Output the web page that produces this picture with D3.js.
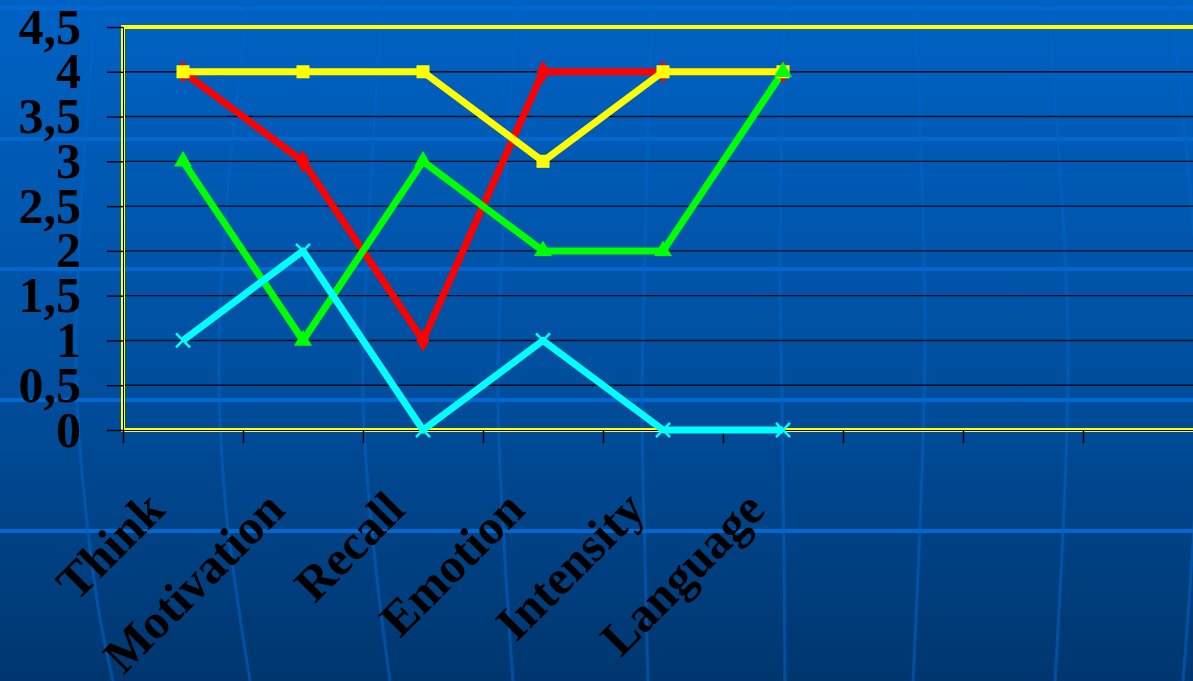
<!DOCTYPE html>
<html lang="en">
<head>
  <meta charset="UTF-8">
  <title>Line chart</title>
  <script src="https://cdnjs.cloudflare.com/ajax/libs/d3/7.8.5/d3.min.js"></script>
  <style>
    html, body { margin: 0; padding: 0; overflow: hidden; }
  </style>
</head>
<body>
  <script>
    // data
    const categories = ["Think", "Motivation", "Recall", "Emotion", "Intensity", "Language", "", "", ""];
    const redValues = [4, 3, 1, 4, 4, 4];
    const yellowValues = [4, 4, 4, 3, 4, 4];
    const greenValues = [3, 1, 3, 2, 2, 4];
    const cyanValues = [1, 2, 0, 1, 0, 0];
    const yTicks = [0, 0.5, 1, 1.5, 2, 2.5, 3, 3.5, 4, 4.5];

    const width = 1193, height = 681;
    const plot = { left: 123, top: 27, right: 1203, bottom: 430 };
    const font = "'Liberation Serif', 'Times New Roman', serif";

    const svg = d3.select("body")
      .append("svg")
      .attr("width", width)
      .attr("height", height);

    // background (slide template)
    const defs = svg.append("defs");
    const grad = defs.append("linearGradient")
      .attr("id", "bg").attr("x1", 0).attr("y1", 0).attr("x2", 0).attr("y2", 1);
    grad.append("stop").attr("offset", "0%").attr("stop-color", "#0062C4");
    grad.append("stop").attr("offset", "55%").attr("stop-color", "#004F9F");
    grad.append("stop").attr("offset", "100%").attr("stop-color", "#00366E");
    svg.append("rect").attr("width", width).attr("height", height).attr("fill", "url(#bg)");

    const deco = svg.append("g").attr("class", "deco");
    const bands = [8, 139, 269, 400, 531];
    deco.selectAll("line")
      .data(bands)
      .enter()
      .append("line")
      .attr("x1", 0).attr("x2", width)
      .attr("y1", d => d).attr("y2", d => d)
      .attr("stroke", "#0068D0")
      .attr("stroke-width", 4);

    const curves = [
      [[97, 0], [80, 220], [77, 400], [97, 600], [113, 681]],
      [[248, 0], [227, 200], [219, 350], [225, 500], [250, 681]],
      [[382, 0], [370, 200], [363, 400], [375, 560], [390, 681]],
      [[517, 0], [502, 250], [498, 400], [505, 560], [513, 681]],
      [[652, 0], [645, 250], [642, 400], [645, 560], [648, 681]],
      [[785, 0], [780, 250], [782, 400], [784, 560], [785, 681]],
      [[915, 0], [925, 340], [913, 681]],
      [[1047, 0], [1068, 340], [1055, 681]],
      [[1170, 0], [1200, 340], [1183, 681]]
    ];
    const curveLine = d3.line().curve(d3.curveCatmullRom);
    deco.selectAll("path")
      .data(curves)
      .enter()
      .append("path")
      .attr("d", d => curveLine(d))
      .attr("fill", "none")
      .attr("stroke", "#0064C8")
      .attr("stroke-opacity", 0.55)
      .attr("stroke-width", 3);

    // scales
    const x = d3.scaleBand()
      .domain(d3.range(categories.length))
      .range([plot.left, plot.right]);
    const y = d3.scaleLinear()
      .domain([0, 4.5])
      .range([plot.bottom, plot.top]);

    const locale = d3.formatLocale({ decimal: ",", thousands: ".", grouping: [3], currency: ["", ""] });
    const fmt = locale.format("~g");

    // gridlines
    svg.append("g")
      .selectAll("line")
      .data(yTicks.filter(d => d > 0 && d < 4.5))
      .enter()
      .append("line")
      .attr("x1", plot.left).attr("x2", plot.right)
      .attr("y1", d => y(d)).attr("y2", d => y(d))
      .attr("stroke", "#000")
      .attr("stroke-opacity", 0.85)
      .attr("stroke-width", 1.4);

    // plot border
    svg.append("rect")
      .attr("x", plot.left).attr("y", plot.top)
      .attr("width", plot.right - plot.left)
      .attr("height", plot.bottom - plot.top)
      .attr("fill", "none")
      .attr("stroke", "#FFFF00")
      .attr("stroke-width", 4);

    // y axis
    const yAxis = d3.axisLeft(y)
      .tickValues(yTicks)
      .tickSize(16)
      .tickPadding(26)
      .tickFormat(fmt);
    const gy = svg.append("g")
      .attr("transform", `translate(${plot.left}, 0)`)
      .call(yAxis);
    gy.select(".domain").attr("stroke", "#000").attr("stroke-width", 1);
    gy.selectAll(".tick line").attr("stroke", "#000").attr("stroke-width", 1.4);
    gy.selectAll(".tick text")
      .attr("fill", "#000")
      .attr("font-family", font)
      .attr("font-weight", "bold")
      .attr("font-size", "50px");

    // x axis (ticks on band edges)
    const edges = d3.range(categories.length + 1).map(i => plot.left + i * x.step());
    const xEdge = d3.scaleLinear().domain([plot.left, plot.right]).range([plot.left, plot.right]);
    const gx = svg.append("g")
      .attr("transform", `translate(0, ${plot.bottom})`)
      .call(d3.axisBottom(xEdge).tickValues(edges).tickSize(13).tickFormat(""));
    gx.select(".domain").attr("stroke", "#000").attr("stroke-width", 1);
    gx.selectAll(".tick line").attr("stroke", "#000").attr("stroke-width", 1.4);

    // category labels
    svg.append("g")
      .selectAll("text")
      .data(categories)
      .enter()
      .append("text")
      .attr("transform", (d, i) => `translate(${x(i) + x.bandwidth() / 2 - 16}, 512) rotate(-45)`)
      .attr("text-anchor", "end")
      .attr("font-family", font)
      .attr("font-weight", "bold")
      .attr("font-size", "49px")
      .attr("fill", "#000")
      .text(d => d);

    // series
    const series = [
      { name: "red", values: redValues, color: "#FF0000", symbol: d3.symbolDiamond, size: 150 },
      { name: "yellow", values: yellowValues, color: "#FFFF00", symbol: d3.symbolSquare, size: 170 },
      { name: "green", values: greenValues, color: "#00FF00", symbol: d3.symbolTriangle, size: 140 },
      { name: "cyan", values: cyanValues, color: "#00FFFF", symbol: d3.symbolTimes, size: 130 }
    ];

    const cx = i => x(i) + x.bandwidth() / 2;
    const line = d3.line()
      .x((d, i) => cx(i))
      .y(d => y(d));

    svg.append("g")
      .selectAll("path")
      .data(series)
      .enter()
      .append("path")
      .attr("d", s => line(s.values))
      .attr("fill", "none")
      .attr("stroke", s => s.color)
      .attr("stroke-width", 7)
      .attr("stroke-linejoin", "round");

    series.forEach(s => {
      svg.append("g")
        .selectAll("path")
        .data(s.values)
        .enter()
        .append("path")
        .attr("transform", (d, i) => `translate(${cx(i)}, ${y(d)})`)
        .attr("d", d3.symbol(s.symbol, s.size))
        .attr("fill", s.symbol === d3.symbolTimes ? "none" : s.color)
        .attr("stroke", s.color)
        .attr("stroke-width", s.symbol === d3.symbolTimes ? 2.5 : 0);
    });
  </script>
</body>
</html>
